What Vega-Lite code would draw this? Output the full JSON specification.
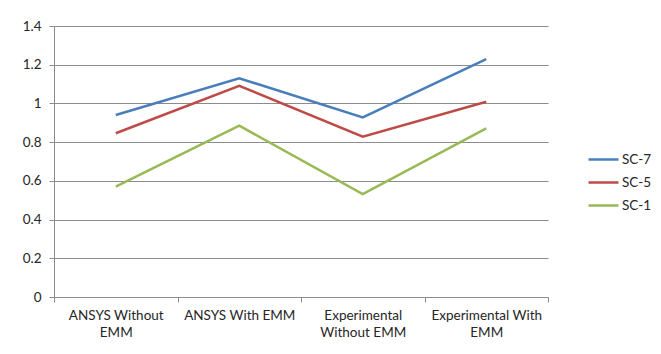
{
  "$schema": "https://vega.github.io/schema/vega-lite/v6.json",
  "autosize": "none",
  "width": 494,
  "height": 271,
  "padding": {"left": 54, "top": 26, "right": 113, "bottom": 57},
  "background": "white",
  "config": {
    "font": "Lato",
    "view": {"stroke": null},
    "axis": {
      "labelFont": "Lato",
      "labelFontSize": 13.5,
      "labelColor": "#262626",
      "domainColor": "#8c8c8c",
      "tickColor": "#8c8c8c",
      "gridColor": "#8c8c8c",
      "domainWidth": 1,
      "tickWidth": 1,
      "gridWidth": 1,
      "tickSize": 5,
      "title": null
    }
  },
  "data": {
    "values": [
      {"case": "ANSYS Without EMM", "series": "SC-7", "value": 0.94},
      {"case": "ANSYS With EMM", "series": "SC-7", "value": 1.13},
      {"case": "Experimental Without EMM", "series": "SC-7", "value": 0.928},
      {"case": "Experimental With EMM", "series": "SC-7", "value": 1.229},
      {"case": "ANSYS Without EMM", "series": "SC-5", "value": 0.846},
      {"case": "ANSYS With EMM", "series": "SC-5", "value": 1.091},
      {"case": "Experimental Without EMM", "series": "SC-5", "value": 0.828},
      {"case": "Experimental With EMM", "series": "SC-5", "value": 1.009},
      {"case": "ANSYS Without EMM", "series": "SC-1", "value": 0.57},
      {"case": "ANSYS With EMM", "series": "SC-1", "value": 0.885},
      {"case": "Experimental Without EMM", "series": "SC-1", "value": 0.532},
      {"case": "Experimental With EMM", "series": "SC-1", "value": 0.871}
    ]
  },
  "mark": {"type": "line", "strokeWidth": 2.5, "strokeJoin": "miter", "clip": false},
  "encoding": {
    "x": {
      "field": "case",
      "type": "nominal",
      "bandPosition": 0.5,
      "sort": ["ANSYS Without EMM", "ANSYS With EMM", "Experimental Without EMM", "Experimental With EMM"],
      "scale": {"type": "band", "paddingInner": 0, "paddingOuter": 0},
      "axis": {
        "labelAngle": 0,
        "tickBand": "extent",
        "labelPadding": 6,
        "labelLineHeight": 17,
        "labelBaseline": "top",
        "labelExpr": "datum.value == 'ANSYS Without EMM' ? ['ANSYS Without', 'EMM'] : datum.value == 'Experimental Without EMM' ? ['Experimental', 'Without EMM'] : datum.value == 'Experimental With EMM' ? ['Experimental With', 'EMM'] : datum.value"
      }
    },
    "y": {
      "field": "value",
      "type": "quantitative",
      "scale": {"domain": [0, 1.4], "nice": false},
      "axis": {
        "values": [0, 0.2, 0.4, 0.6, 0.8, 1, 1.2, 1.4],
        "labelPadding": 8,
        "grid": true,
        "format": "~g"
      }
    },
    "color": {
      "field": "series",
      "type": "nominal",
      "scale": {"domain": ["SC-7", "SC-5", "SC-1"], "range": ["#4a7ebb", "#be4b48", "#98b954"]},
      "legend": {
        "title": null,
        "orient": "none",
        "legendX": 533,
        "legendY": 117,
        "symbolType": "stroke",
        "symbolSize": 900,
        "symbolStrokeWidth": 2.5,
        "labelFont": "Lato",
        "labelFontSize": 13.5,
        "labelColor": "#262626",
        "labelOffset": 2,
        "rowPadding": -4
      }
    }
  }
}
